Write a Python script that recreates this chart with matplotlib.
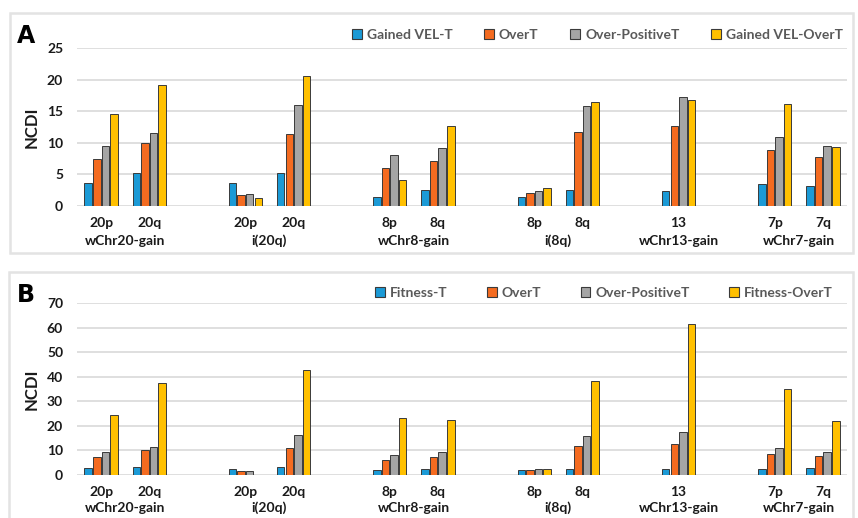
import numpy as np
import matplotlib
matplotlib.use('Agg')
import matplotlib.pyplot as plt
from matplotlib.patches import Rectangle, Patch

# slot positions on the x axis (gaps between chromosome groups)
positions = [0, 1, 3, 4, 6, 7, 9, 10, 12, 14, 15]
sub_labels = ['20p', '20q', '20p', '20q', '8p', '8q', '8p', '8q', '13', '7p', '7q']
group_labels = ['wChr20-gain', 'i(20q)', 'wChr8-gain', 'i(8q)', 'wChr13-gain', 'wChr7-gain']
group_centers = [0.5, 3.5, 6.5, 9.5, 12, 14.5]

# panel A
names_a = ['Gained VEL-T', 'OverT', 'Over-PositiveT', 'Gained VEL-OverT']
vel_t = [3.6, 5.2, 3.6, 5.2, 1.4, 2.6, 1.4, 2.6, 2.3, 3.5, 3.1]
over_a = [7.4, 10.0, 1.7, 11.4, 6.0, 7.1, 2.1, 11.7, 12.6, 8.8, 7.8]
pos_a = [9.5, 11.5, 1.9, 16.0, 8.1, 9.1, 2.3, 15.9, 17.2, 10.9, 9.5]
vel_over = [14.6, 19.1, 1.3, 20.5, 4.1, 12.6, 2.9, 16.4, 16.8, 16.1, 9.4]

# panel B
names_b = ['Fitness-T', 'OverT', 'Over-PositiveT', 'Fitness-OverT']
fit_t = [2.7, 3.3, 2.6, 3.3, 2.0, 2.3, 2.0, 2.3, 2.3, 2.3, 2.7]
over_b = [7.5, 10.2, 1.8, 11.1, 6.1, 7.2, 2.0, 11.6, 12.8, 8.7, 7.9]
pos_b = [9.5, 11.4, 1.8, 16.2, 8.2, 9.4, 2.3, 16.0, 17.4, 11.0, 9.5]
fit_over = [24.5, 37.5, np.nan, 42.8, 23.1, 22.2, 2.3, 38.3, 61.4, 35.2, 21.9]

colors = ['#1B9AD6', '#F46B20', '#A5A5A5', '#FFC000']
W, H = 858, 518
plt.rcParams['font.family'] = ['Lato', 'DejaVu Sans']
fig = plt.figure(figsize=(W / 100, H / 100), dpi=100)
txt = '#1a1a1a'
grid = '#d9d9d9'


def panel(box, plot, series, names, ymax, ystep, letter, leg_x, leg_y, colsp, off2):
    # frame around the panel
    x0, y0, x1, y1 = box
    fig.patches.append(Rectangle((x0 / W, 1 - y1 / H), (x1 - x0) / W, (y1 - y0) / H,
                                 transform=fig.transFigure, fill=False,
                                 edgecolor='#e3e3e3', lw=1.8))
    l, t, r, b = plot
    ax = fig.add_axes([l / W, 1 - b / H, (r - l) / W, (b - t) / H])
    bw, step = 0.155, 0.178
    x = np.array(positions, dtype=float)
    handles = []
    for i, (vals, c) in enumerate(zip(series, colors)):
        ax.bar(x + (i - 1.5) * step, vals, bw, color=c, edgecolor='#3a3a3a', lw=0.7, zorder=3)
        handles.append(Patch(facecolor=c, edgecolor='#3a3a3a', lw=0.8, label=names[i]))
    ax.set_xlim(-0.5, 15.5)
    ax.set_ylim(0, ymax)
    ax.set_yticks(np.arange(0, ymax + 1, ystep))
    ax.yaxis.grid(True, color=grid, lw=1.2, zorder=0)
    ax.set_axisbelow(True)
    for s in ax.spines.values():
        s.set_visible(False)
    ax.set_xticks([])
    ax.tick_params(axis='y', length=0, pad=10, labelsize=10, labelcolor=txt)
    for lab in ax.get_yticklabels():
        lab.set_fontweight('bold')
    ax.set_ylabel('NCDI', fontsize=12, fontweight='bold', color=txt, labelpad=5)
    tr = ax.get_xaxis_transform()
    for p, s in zip(positions, sub_labels):
        ax.annotate(s, (p, 0), xycoords=tr, xytext=(0, -12), textcoords='offset points',
                    ha='center', va='center', fontsize=10, fontweight='bold', color=txt)
    for p, s in zip(group_centers, group_labels):
        ax.annotate(s, (p, 0), xycoords=tr, xytext=(0, -off2), textcoords='offset points',
                    ha='center', va='center', fontsize=10, fontweight='bold', color=txt)
    fig.text(17 / W, 1 - (y0 + 30) / H, letter, fontsize=17, fontweight='bold',
             family='DejaVu Sans', ha='left', va='baseline')
    leg = fig.legend(handles=handles, loc='center left', bbox_to_anchor=(leg_x / W, 1 - leg_y / H),
                     ncol=4, frameon=False, handlelength=0.7, handleheight=0.7, borderpad=0,
                     borderaxespad=0, handletextpad=0.35, columnspacing=colsp, fontsize=10)
    for t_ in leg.get_texts():
        t_.set_color('#595959')
        t_.set_fontweight('bold')
    return ax


panel((10, 13, 853, 253), (77, 48, 847, 206), [vel_t, over_a, pos_a, vel_over],
      names_a, 25, 5, 'A', 352, 35, 2.3, 25)
panel((9, 272, 853, 530), (77, 303, 847, 475), [fit_t, over_b, pos_b, fit_over],
      names_b, 70, 10, 'B', 375, 293, 2.85, 23.5)

fig.savefig('out.png', dpi=100)
